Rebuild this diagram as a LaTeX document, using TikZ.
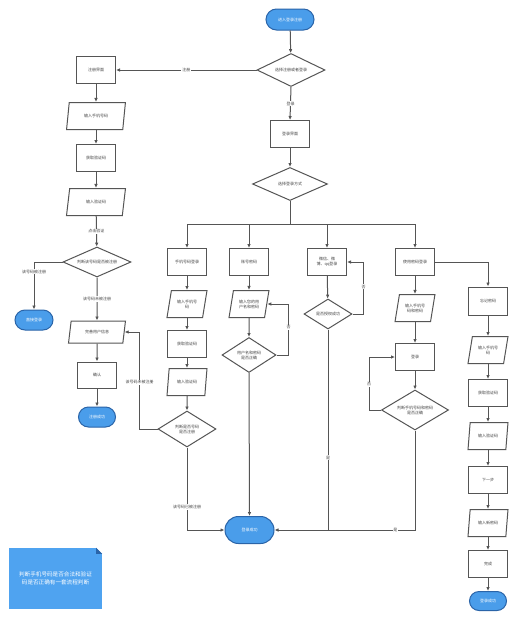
\documentclass[tikz,border=0pt]{standalone}
\usepackage{fontspec}
\newfontfamily\cjk{Noto Sans CJK SC}
\usetikzlibrary{shapes.geometric,shapes.misc,arrows.meta}
\definecolor{linec}{HTML}{555555}
\definecolor{termf}{HTML}{4A9DEA}
\definecolor{termd}{HTML}{2A64A8}
\definecolor{notef}{HTML}{4FA3F0}
\definecolor{txtc}{HTML}{444444}
\begin{document}
\begin{tikzpicture}[x=1pt,y=-1pt,
  txt/.style={font=\cjk\fontsize{4}{5}\selectfont, text=txtc, align=center, inner sep=0pt},
  proc/.style={txt, rectangle, draw=linec, line width=1pt, fill=white, minimum width=39pt, minimum height=27pt},
  io/.style={txt, trapezium, trapezium left angle=72, trapezium right angle=108, trapezium stretches=true, draw=linec, line width=1pt, fill=white, minimum width=40pt, minimum height=27pt},
  dec/.style={txt, diamond, draw=linec, line width=1pt, fill=white, aspect=2},
  term/.style={txt, rounded rectangle, text=white, draw=termd, line width=1pt, fill=termf, minimum width=38pt, minimum height=20pt},
  arr/.style={draw=linec, line width=1pt, -{Latex[length=4pt,width=3.5pt]}},
  ln/.style={draw=linec, line width=1pt},
  lab/.style={txt, fill=white, inner sep=0.8pt}
]
\fill[white] (0,0) rectangle (517,621);
\useasboundingbox (0,0) rectangle (517,621);

% top
\node[term, minimum width=48pt, minimum height=21pt] (start) at (290,19.5) {进入登录注册};
\node[dec, minimum width=68pt, minimum height=33pt] (d1) at (291,70) {选择注册或者登录};

% registration column
\node[proc] (reg) at (96,70) {注册界面};
\node[io, minimum width=59pt] (rphone) at (96,116) {输入手机号码};
\node[proc] (rcode) at (96,158) {获取验证码};
\node[io, minimum width=59pt] (rinput) at (96,202) {输入验证码};
\node[dec, minimum width=68pt, minimum height=30pt] (rdec) at (97,262) {判断该号码是否被注册};
\node[term] (rexist) at (34,320) {直接登录};
\node[io, minimum width=57pt, minimum height=22pt] (rinfo) at (97,332) {完善用户信息};
\node[proc, minimum height=26pt] (rok) at (97,375) {确认};
\node[term, minimum width=37pt] (rdone) at (97,417) {注册成功};

% login
\node[proc] (login) at (290,134) {登录界面};
\node[dec, minimum width=75pt, minimum height=33pt] (d2) at (290,184) {选择登录方式};
\coordinate (split) at (290,224);

\node[proc] (m1) at (187,262) {手机号码登录};
\node[io] (m1a) at (187,304) {输入手机号\\码};
\node[proc] (m1b) at (187,344) {获取验证码};
\node[io] (m1c) at (187,382) {输入验证码};
\node[dec, minimum width=58pt, minimum height=36pt] (m1d) at (187,429) {判断是否号码\\是否注册};

\node[proc] (m2) at (249,262) {账号密码};
\node[io] (m2a) at (249,304) {输入您的用\\户名和密码};
\node[dec, minimum width=54pt, minimum height=35pt] (m2d) at (249,355) {用户名和密码\\是否正确};

\node[proc] (m3) at (327,262) {微信、微\\博、qq登录};
\node[dec, minimum width=48pt, minimum height=30pt] (m3d) at (328,314) {是否授权成功};

\node[proc] (m4) at (415,262) {使用密码登录};
\node[io] (m4a) at (415,308) {输入手机号\\码和密码};
\node[proc] (m4b) at (415,357) {登录};
\node[dec, minimum width=67pt, minimum height=40pt] (m4d) at (415,410) {判断手机号码和密码\\是否正确};

\node[term, minimum width=49pt, minimum height=27pt] (ok) at (249.5,530) {登录成功};

% forgot password
\node[proc, minimum height=28pt] (f1) at (488,301) {忘记密码};
\node[io] (f2) at (488,350) {输入手机号\\码};
\node[proc] (f3) at (488,393) {获取验证码};
\node[io] (f4) at (488,436) {输入验证码};
\node[proc] (f5) at (488,480) {下一步};
\node[io] (f6) at (488,523) {输入新密码};
\node[proc] (f7) at (488,564) {完成};
\node[term, minimum width=37pt, minimum height=19pt] (f8) at (488,601) {登录成功};

% note
\node[txt, font=\cjk\fontsize{5.6}{7.5}\selectfont, text=white, fill=notef, minimum width=93pt, minimum height=61pt] (note) at (55.5,578.5) {判断手机号码是否合法和验证\\码是否正确有一套流程判断};
\fill[white] (note.north east) -- ++(-6,0) -- ++(6,6) -- cycle;
\fill[termd] (note.north east) ++(-6,0) -- ++(6,6) -- ++(-6,0) -- cycle;

% connectors
\draw[arr] (start) -- (d1);
\draw[arr] (d1.west) -- node[lab]{注册} (reg.east);
\draw[arr] (d1.south) -- node[lab]{登录} (login.north);
\draw[arr] (reg) -- (rphone);
\draw[arr] (rphone) -- (rcode);
\draw[arr] (rcode) -- (rinput);
\draw[arr] (rinput) -- node[lab]{点击验证} (rdec);
\draw[arr] (rdec.west) -| node[lab, pos=0.6]{该号码被注册} (rexist.north);
\draw[arr] (rdec.south) -- node[lab]{该号码未被注册} (rinfo.north);
\draw[arr] (rinfo) -- (rok);
\draw[arr] (rok) -- (rdone);
\draw[arr] (m1d.west) -- ++(-18,0) |- node[lab, pos=0.24]{该号码未被注册} (rinfo.east);

\draw[arr] (login) -- (d2);
\draw[ln] (d2.south) -- (split);
\draw[arr] (split) -| (m1.north);
\draw[arr] (split) -| (m2.north);
\draw[arr] (split) -| (m3.north);
\draw[arr] (split) -| (m4.north);

\draw[arr] (m1) -- (m1a);
\draw[arr] (m1a) -- (m1b);
\draw[arr] (m1b) -- (m1c);
\draw[arr] (m1c) -- (m1d);
\draw[arr] (m1d.south) |- node[lab, pos=0.36]{该号码已被注册} (ok.west);

\draw[arr] (m2) -- (m2a);
\draw[arr] (m2a) -- (m2d);
\draw[arr] (m2d.east) -- ++(12,0) |- node[lab, pos=0.27]{否} (m2a.east);
\draw[arr] (m2d.south) -- (ok.north);

\draw[arr] (m3) -- (m3d);
\draw[arr] (m3d.east) -- ++(11,0) |- node[lab, pos=0.26]{否} (m3.east);
\draw[ln] (m3d.south) -- node[lab, pos=0.64]{是} (m3d.south |- ok.east);

\draw[arr] (m4) -- (m4a);
\draw[arr] (m4a) -- (m4b);
\draw[arr] (m4b) -- (m4d);
\draw[arr] (m4d.west) -- ++(-12,0) |- node[lab, pos=0.24]{否} (m4b.west);
\draw[arr] (m4d.south) |- node[lab, pos=0.57]{是} (ok.east);

\draw[arr] (m4.east) -| (f1.north);
\draw[arr] (f1) -- (f2);
\draw[arr] (f2) -- (f3);
\draw[arr] (f3) -- (f4);
\draw[arr] (f4) -- (f5);
\draw[arr] (f5) -- (f6);
\draw[arr] (f6) -- (f7);
\draw[arr] (f7) -- (f8);
\end{tikzpicture}
\end{document}
